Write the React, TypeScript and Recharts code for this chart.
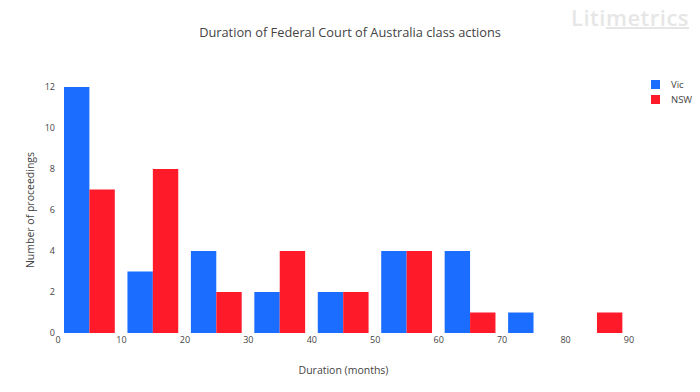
import { BarChart, Bar, XAxis, YAxis } from "recharts";

// bin centres (months) and counts per state
const binCentres = [5, 15, 25, 35, 45, 55, 65, 75, 85];
const vic = [12, 3, 4, 2, 2, 4, 4, 1, 0];
const nsw = [7, 8, 2, 4, 2, 4, 1, 0, 1];
const xTicks = [0, 10, 20, 30, 40, 50, 60, 70, 80, 90];
const yTicks = [0, 2, 4, 6, 8, 10, 12];

const data = binCentres.map((m, i) => ({ m, vic: vic[i], nsw: nsw[i] }));

const FONT = '"Open Sans", sans-serif';
const tickStyle = { fontSize: 9, fill: "#444", fontFamily: FONT };
const VIC = "#1a6dff";
const NSW = "#ff1a2a";

const legendItems = [
  { name: "Vic", color: VIC },
  { name: "NSW", color: NSW },
];

export default function App() {
  return (
    <div style={{ position: "absolute", left: 0, top: 0, width: 700, height: 392, background: "#fff", fontFamily: FONT }}>
      <div style={{ position: "absolute", top: 23, left: 0, width: 700, textAlign: "center", fontSize: 12.8, color: "#444" }}>
        Duration of Federal Court of Australia class actions
      </div>
      <div style={{ position: "absolute", top: 2, left: 571, fontSize: 22, color: "#e6e6e6", fontWeight: 600, letterSpacing: 0.5 }}>
        Liti<span style={{ textDecoration: "underline", textDecorationThickness: 2 }}>metrics</span>
      </div>
      <div style={{ position: "absolute", top: 77, left: 651, fontSize: 9.5, color: "#444" }}>
        {legendItems.map((it) => (
          <div key={it.name} style={{ display: "flex", alignItems: "center", height: 15 }}>
            <span style={{ width: 9, height: 9, background: it.color, display: "inline-block" }} />
            <span style={{ marginLeft: 11 }}>{it.name}</span>
          </div>
        ))}
      </div>
      <BarChart
        width={700}
        height={392}
        data={data}
        margin={{ top: 87, right: 71, bottom: 39, left: 28 }}
        barGap={0}
        style={{ position: "absolute", left: 0, top: 0 }}
      >
        <XAxis
          dataKey="m"
          type="number"
          domain={[0, 90]}
          ticks={xTicks}
          interval={0}
          axisLine={false}
          tickLine={false}
          tickSize={0}
          tickMargin={4}
          height={20}
          tick={tickStyle}
          label={{ value: "Duration (months)", position: "insideBottom", offset: -21, style: { fontSize: 10.5, fill: "#444", fontFamily: FONT } }}
        />
        <YAxis
          type="number"
          domain={[0, 12]}
          ticks={yTicks}
          axisLine={false}
          tickLine={false}
          tickSize={0}
          tickMargin={3}
          width={30}
          tick={tickStyle}
          label={{ value: "Number of proceedings", angle: -90, position: "insideLeft", offset: 0, dx: 2, style: { fontSize: 10.5, fill: "#444", fontFamily: FONT, textAnchor: "middle" } }}
        />
        <Bar dataKey="vic" name="Vic" fill={VIC} barSize={25.4} isAnimationActive={false} />
        <Bar dataKey="nsw" name="NSW" fill={NSW} barSize={25.4} isAnimationActive={false} />
      </BarChart>
    </div>
  );
}
